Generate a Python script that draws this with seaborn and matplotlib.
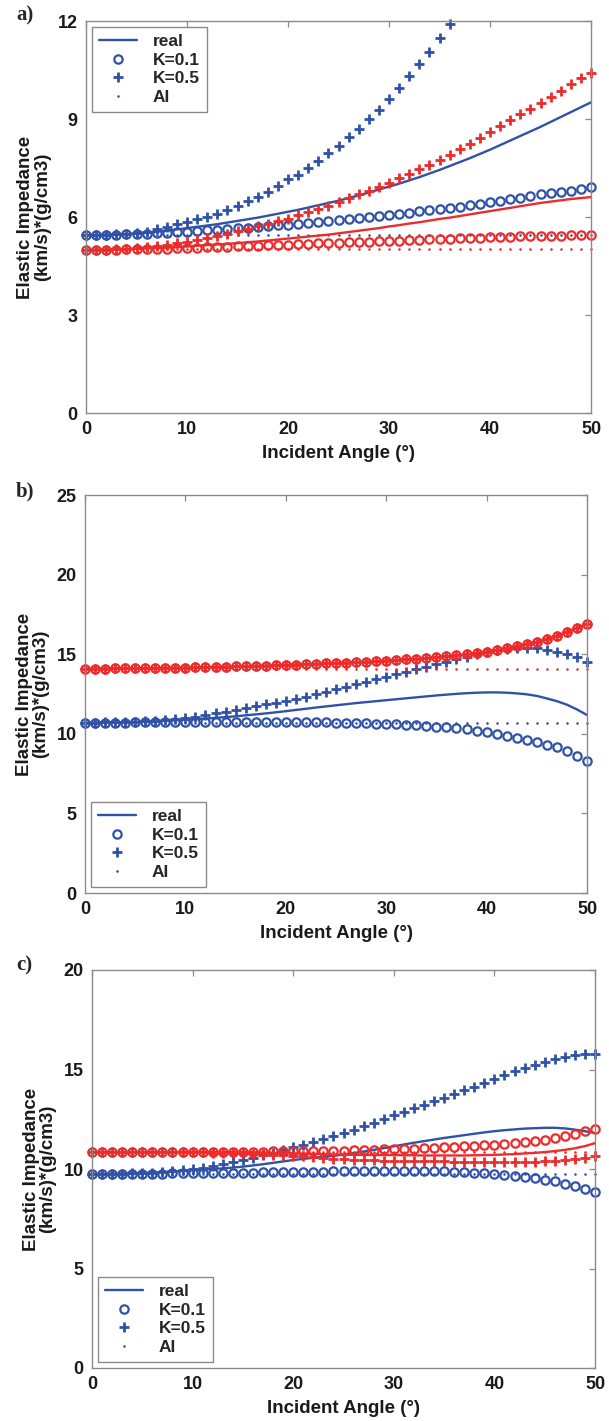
import numpy as np
import pandas as pd
import matplotlib
matplotlib.use("Agg")
import matplotlib.pyplot as plt
from matplotlib.lines import Line2D
import seaborn as sns

# ---------------- data ----------------
angles = list(range(0, 51))

# panel a
a_blue_real = [5.45,5.45,5.46,5.47,5.48,5.50,5.52,5.55,5.58,5.62,5.66,
               5.70,5.74,5.78,5.83,5.88, 5.93,5.98,6.04,6.10,6.16,
               6.22,6.29,6.36,6.43,6.50, 6.58,6.66,6.75,6.84,6.93,
               7.02,7.12,7.22,7.33,7.44, 7.56,7.68,7.80,7.93,8.06,
               8.20,8.34,8.48,8.62,8.76, 8.91,9.06,9.21,9.36,9.51]
a_blue_k01 = [5.45,5.45,5.45,5.46,5.47,5.48,5.49,5.50,5.52,5.53,5.55,
              5.57,5.59,5.61,5.63,5.65, 5.67,5.69,5.71,5.74,5.76,
              5.79,5.82,5.85,5.88,5.91, 5.94,5.97,6.00,6.03,6.06,
              6.10,6.13,6.17,6.20,6.24, 6.28,6.32,6.37,6.41,6.46,
              6.50,6.55,6.59,6.64,6.69, 6.73,6.77,6.81,6.86,6.92]
a_blue_k05 = [5.45,5.45,5.46,5.47,5.48,5.50,5.55,5.62,5.68,5.78,5.86,
              5.94,6.01,6.10,6.22,6.34, 6.48,6.62,6.77,6.95,7.15,
              7.30,7.50,7.72,7.96,8.18, 8.44,8.70,8.99,9.29,9.60,
              9.96,10.31,10.68,11.06,11.48, 11.92] + [np.nan] * 14
a_blue_ai = [5.45] * 51
a_red_real = [5.00,5.00,5.01,5.01,5.02,5.03,5.04,5.05,5.06,5.08,5.10,
              5.12,5.14,5.16,5.18,5.20, 5.23,5.25,5.28,5.31,5.34,
              5.37,5.40,5.43,5.46,5.50, 5.54,5.58,5.62,5.66,5.71,
              5.75,5.80,5.84,5.89,5.94, 5.98,6.03,6.08,6.13,6.18,
              6.23,6.28,6.33,6.38,6.43, 6.47,6.51,6.55,6.58,6.61]
a_red_k01 = [5.00,5.00,5.00,5.00,5.01,5.01,5.02,5.02,5.03,5.04,5.05,
             5.06,5.07,5.08,5.09,5.10, 5.11,5.12,5.13,5.14,5.15,
             5.16,5.18,5.19,5.20,5.21, 5.22,5.24,5.25,5.26,5.27,
             5.28,5.29,5.31,5.32,5.33, 5.34,5.35,5.36,5.37,5.38,
             5.39,5.40,5.41,5.42,5.42, 5.43,5.43,5.44,5.44,5.44]
a_red_k05 = [5.00,5.00,5.00,5.01,5.02,5.04,5.07,5.10,5.14,5.19,5.25,
             5.30,5.36,5.42,5.49,5.56, 5.63,5.71,5.79,5.87,5.95,
             6.05,6.15,6.25,6.35,6.46, 6.57,6.69,6.81,6.93,7.05,
             7.18,7.32,7.46,7.60,7.75, 7.91,8.07,8.24,8.42,8.60,
             8.78,8.96,9.14,9.32,9.50, 9.68,9.87,10.06,10.25,10.42]
a_red_ai = [5.02] * 51

# panel b
b_blue_real = [10.70,10.70,10.71,10.72,10.73,10.75,10.77,10.79,10.82,10.85,10.88,
               10.92,10.96,11.00,11.05,11.10, 11.16,11.22,11.28,11.35,11.42,
               11.50,11.57,11.65,11.72,11.79, 11.86,11.93,11.99,12.05,12.11,
               12.17,12.23,12.29,12.35,12.41, 12.46,12.51,12.55,12.58,12.60,
               12.60,12.58,12.54,12.48,12.38, 12.22,12.05,11.83,11.53,11.18]
b_blue_k01 = [10.70,10.70,10.70,10.70,10.70,10.71,10.71,10.71,10.72,10.72,10.72,
              10.72,10.73,10.73,10.73,10.73, 10.73,10.73,10.73,10.73,10.73,
              10.73,10.72,10.72,10.71,10.70, 10.69,10.68,10.66,10.64,10.62,
              10.59,10.56,10.53,10.49,10.45, 10.40,10.35,10.28,10.20,10.10,
              9.99,9.87,9.75,9.62,9.48, 9.32,9.15,8.90,8.63,8.30]
b_blue_k05 = [10.70,10.70,10.71,10.72,10.73,10.75,10.78,10.82,10.86,10.92,10.99,
              11.08,11.18,11.29,11.40,11.52, 11.63,11.74,11.85,11.96,12.07,
              12.19,12.33,12.48,12.64,12.79, 12.96,13.13,13.28,13.43,13.59,
              13.74,13.90,14.05,14.22,14.38, 14.53,14.69,14.84,15.00,15.15,
              15.25,15.32,15.37,15.39,15.37, 15.28,15.16,15.02,14.82,14.53]
b_blue_ai = [10.70] * 51
b_red_real = [14.10,14.10,14.10,14.11,14.11,14.12,14.12,14.13,14.14,14.15,14.16,
              14.17,14.19,14.20,14.22,14.23, 14.25,14.27,14.29,14.31,14.33,
              14.35,14.37,14.39,14.42,14.44, 14.47,14.50,14.53,14.56,14.60,
              14.63,14.67,14.71,14.76,14.81, 14.86,14.92,14.99,15.07,15.16,
              15.26,15.37,15.50,15.64,15.78, 15.95,16.16,16.40,16.65,16.90]
b_red_k01 = list(b_red_real)
b_red_k05 = list(b_red_real)
b_red_ai = [14.10] * 51

# panel c
c_blue_real = [9.75,9.75,9.76,9.77,9.78,9.80,9.82,9.84,9.87,9.90,9.94,
               9.97,10.00,10.03,10.07,10.12, 10.18,10.24,10.31,10.38,10.45,
               10.51,10.56,10.61,10.66,10.72, 10.80,10.88,10.96,11.05,11.14,
               11.23,11.32,11.40,11.48,11.56, 11.63,11.70,11.77,11.84,11.90,
               11.95,11.99,12.03,12.05,12.07, 12.07,12.04,11.98,11.90,11.81]
c_blue_k01 = [9.75,9.75,9.75,9.75,9.76,9.76,9.77,9.77,9.78,9.78,9.79,
              9.80,9.80,9.81,9.81,9.82, 9.82,9.83,9.83,9.84,9.84,
              9.85,9.86,9.87,9.88,9.89, 9.90,9.91,9.91,9.92,9.92,
              9.92,9.92,9.91,9.90,9.88, 9.86,9.84,9.82,9.78,9.74,
              9.70,9.65,9.60,9.54,9.47, 9.38,9.27,9.14,8.99,8.83]
c_blue_k05 = [9.75,9.75,9.76,9.77,9.78,9.80,9.82,9.85,9.89,9.94,10.00,
              10.07,10.15,10.24,10.34,10.45, 10.57,10.69,10.82,10.95,11.09,
              11.23,11.37,11.51,11.66,11.81, 11.98,12.15,12.33,12.51,12.69,
              12.87,13.05,13.23,13.41,13.59, 13.77,13.96,14.14,14.33,14.51,
              14.71,14.91,15.10,15.25,15.39, 15.52,15.64,15.72,15.77,15.78]
c_blue_ai = [9.77] * 51
c_red_real = [10.85,10.85,10.85,10.85,10.85,10.85,10.85,10.85,10.85,10.85,10.85,
              10.85,10.85,10.85,10.85,10.85, 10.84,10.83,10.82,10.80,10.79,
              10.77,10.76,10.74,10.73,10.72, 10.71,10.71,10.70,10.70,10.70,
              10.69,10.69,10.68,10.68,10.68, 10.68,10.68,10.69,10.70,10.71,
              10.73,10.75,10.78,10.81,10.85, 10.90,10.96,11.04,11.15,11.30]
c_red_k01 = [10.85,10.85,10.85,10.85,10.85,10.85,10.85,10.85,10.85,10.85,10.85,
             10.85,10.85,10.86,10.86,10.86, 10.87,10.87,10.88,10.88,10.89,
             10.90,10.90,10.91,10.91,10.92, 10.94,10.95,10.97,10.98,11.00,
             11.02,11.03,11.05,11.07,11.09, 11.11,11.14,11.16,11.19,11.22,
             11.26,11.30,11.35,11.41,11.48, 11.56,11.65,11.76,11.89,12.02]
c_red_k05 = [10.85,10.85,10.85,10.85,10.85,10.85,10.85,10.85,10.85,10.84,10.84,
             10.83,10.82,10.81,10.80,10.78, 10.76,10.74,10.72,10.70,10.67,
             10.63,10.59,10.55,10.51,10.48, 10.46,10.44,10.43,10.42,10.41,
             10.40,10.39,10.39,10.38,10.38, 10.37,10.37,10.37,10.36,10.36,
             10.36,10.36,10.37,10.37,10.38, 10.40,10.44,10.50,10.56,10.63]
c_red_ai = [10.87] * 51

panel_labels = ["a)", "b)", "c)"]
y_ticks = [[0, 3, 6, 9, 12], [0, 5, 10, 15, 20, 25], [0, 5, 10, 15, 20]]
x_ticks = [0, 10, 20, 30, 40, 50]
legend_labels = ["real", "K=0.1", "K=0.5", "AI"]
x_label = "Incident Angle (\u00b0)"
y_label = "Elastic Impedance\n(km/s)*(g/cm3)"

# ---------------- style ----------------
sns.set_theme(style="white")
plt.rcParams["font.family"] = ["Liberation Sans", "DejaVu Sans"]
plt.rcParams["font.weight"] = "bold"

BLUE = "#2F52A8"
RED = "#EC2B2B"
GREY = "#8a8a8a"
TXT = "#1a1a1a"

W, H = 609, 1421
fig = plt.figure(figsize=(W / 100, H / 100), dpi=100)
fig.patch.set_facecolor("white")

# axes boxes in pixels: left, top, right, bottom
boxes = [(86, 21, 591, 413), (85, 495, 587, 893), (92, 970, 595, 1368)]
label_pos = [(16, 15), (16, 491), (16, 965)]
legend_loc = ["upper left", "lower left", "lower left"]

panels = [
    dict(blue=(a_blue_real, a_blue_k01, a_blue_k05, a_blue_ai),
         red=(a_red_real, a_red_k01, a_red_k05, a_red_ai)),
    dict(blue=(b_blue_real, b_blue_k01, b_blue_k05, b_blue_ai),
         red=(b_red_real, b_red_k01, b_red_k05, b_red_ai)),
    dict(blue=(c_blue_real, c_blue_k01, c_blue_k05, c_blue_ai),
         red=(c_red_real, c_red_k01, c_red_k05, c_red_ai)),
]

CIRC = dict(marker="o", markersize=6.0, markeredgewidth=1.6)
PLUS = dict(marker="+", markersize=7.0, markeredgewidth=2.0)
DOT = dict(marker=".", markersize=2.5, markeredgewidth=0.5)


def draw_group(ax, series, color):
    real, k01, k05, ai = series
    df = pd.DataFrame({"angle": angles, "real": real, "k01": k01,
                       "k05": k05, "ai": ai})
    sns.lineplot(data=df, x="angle", y="real", ax=ax, color=color,
                 linewidth=1.7, clip_on=False, errorbar=None)
    sns.lineplot(data=df, x="angle", y="k01", ax=ax, color=color,
                 linestyle="", markerfacecolor="none", markeredgecolor=color,
                 clip_on=False, errorbar=None, **CIRC)
    sns.lineplot(data=df, x="angle", y="k05", ax=ax, color=color,
                 linestyle="", markeredgecolor=color,
                 clip_on=False, errorbar=None, **PLUS)
    sns.lineplot(data=df, x="angle", y="ai", ax=ax, color=color,
                 linestyle="", markeredgecolor=color, markerfacecolor=color,
                 clip_on=False, errorbar=None, **DOT)


for i, (box, p) in enumerate(zip(boxes, panels)):
    l, t, r, b = box
    ax = fig.add_axes([l / W, 1 - b / H, (r - l) / W, (b - t) / H])
    draw_group(ax, p["blue"], BLUE)
    draw_group(ax, p["red"], RED)

    ax.set_xlim(0, 50)
    ax.set_ylim(y_ticks[i][0], y_ticks[i][-1])
    ax.set_xticks(x_ticks)
    ax.set_yticks(y_ticks[i])
    ax.tick_params(direction="in", top=True, right=True, length=4,
                   width=0.9, color=GREY, labelsize=13, labelcolor=TXT,
                   pad=6)
    for lab in ax.get_xticklabels() + ax.get_yticklabels():
        lab.set_fontweight("bold")
    for s in ax.spines.values():
        s.set_color(GREY)
        s.set_linewidth(1.0)
        s.set_visible(True)
    ax.set_xlabel(x_label, fontsize=13.5, fontweight="bold", color=TXT,
                  labelpad=5)
    ax.set_ylabel(y_label, fontsize=13.5, fontweight="bold", color=TXT,
                  labelpad=5, linespacing=1.0)

    handles = [
        Line2D([], [], color=BLUE, linewidth=1.7),
        Line2D([], [], color=BLUE, linestyle="", markerfacecolor="none",
               markeredgecolor=BLUE, **CIRC),
        Line2D([], [], color=BLUE, linestyle="", **PLUS),
        Line2D([], [], color=BLUE, linestyle="", **DOT),
    ]
    leg = ax.legend(handles, legend_labels, loc=legend_loc[i], frameon=True,
                    fancybox=False, framealpha=1, edgecolor=GREY,
                    prop={"weight": "bold", "size": 12.5}, handlelength=2.2,
                    handletextpad=0.9, labelspacing=0.2, borderpad=0.4,
                    borderaxespad=0.35)
    leg.get_frame().set_linewidth(1.0)

    fig.text(label_pos[i][0] / W, 1 - label_pos[i][1] / H, panel_labels[i],
             fontsize=15, fontweight="bold", va="center", ha="left",
             family=["Liberation Serif", "DejaVu Serif"])

fig.savefig("out.png", dpi=100, facecolor="white")
